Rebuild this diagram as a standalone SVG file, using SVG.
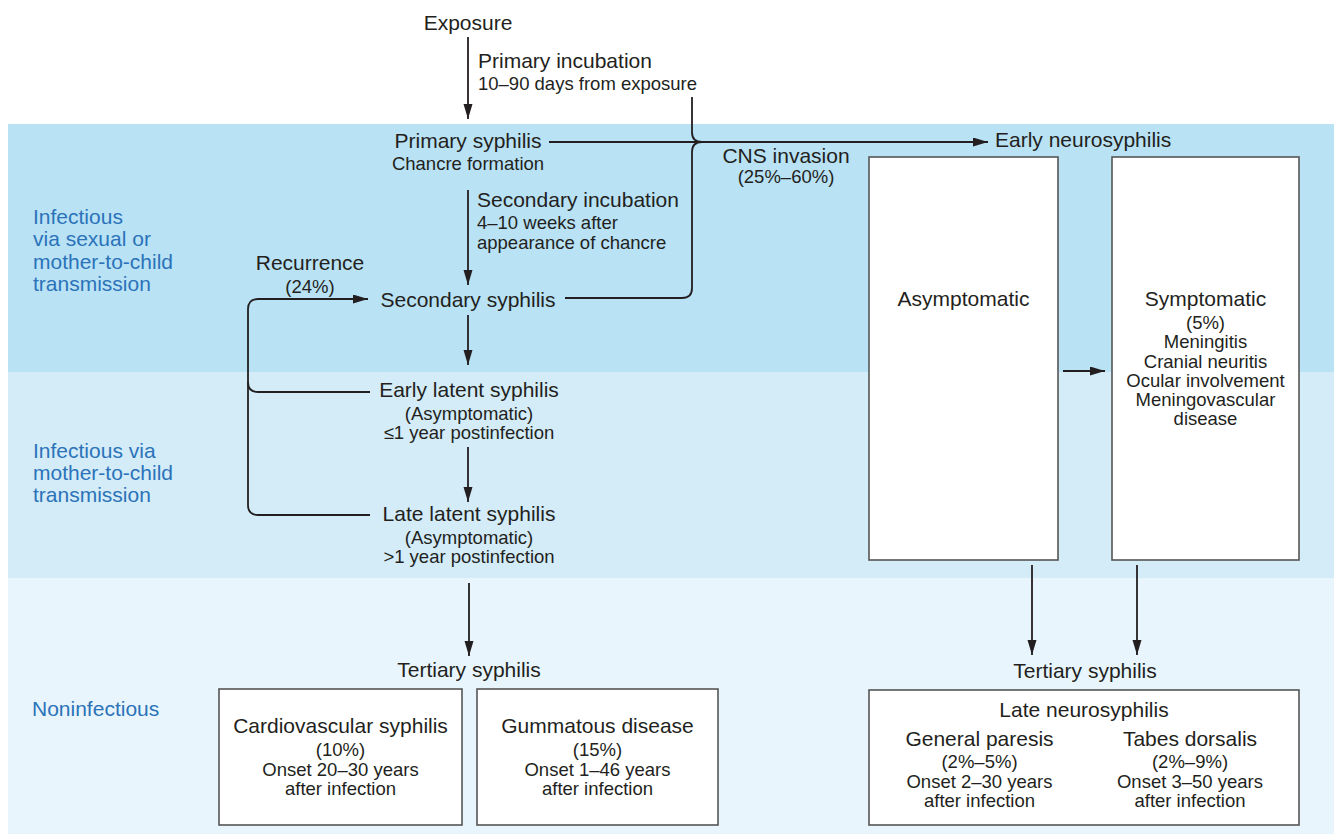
<svg xmlns="http://www.w3.org/2000/svg" width="1334" height="834" viewBox="0 0 1334 834">
<style>
text{font-family:"Liberation Sans",Arial,Helvetica,sans-serif;fill:#231f20}
.m{font-size:21px}
.s{font-size:18.5px}
.c{text-anchor:middle}
.lbl{font-size:21px;fill:#2b73b9}
.box{fill:#ffffff;stroke:#555555;stroke-width:1.6}
.ln{fill:none;stroke:#231f20;stroke-width:1.8}
.arr{marker-end:url(#ah)}
</style>
<defs>
<marker id="ah" markerUnits="userSpaceOnUse" markerWidth="16" markerHeight="10" refX="15" refY="4.5" orient="auto">
<path d="M0,0 L15,4.5 L0,9 z" fill="#231f20"/>
</marker>
</defs>
<g id="bands">
<rect x="8" y="124" width="1326" height="248" fill="#b9e2f5"/>
<rect x="8" y="372" width="1326" height="206" fill="#d3ecf8"/>
<rect x="8" y="578" width="1326" height="256" fill="#e8f5fc"/>
</g>
<g id="stage-labels">
<text class="lbl" x="33" y="224">Infectious</text>
<text class="lbl" x="33" y="246">via sexual or</text>
<text class="lbl" x="33" y="269">mother-to-child</text>
<text class="lbl" x="33" y="291">transmission</text>
<text class="lbl" x="33" y="458">Infectious via</text>
<text class="lbl" x="33" y="480">mother-to-child</text>
<text class="lbl" x="33" y="502">transmission</text>
<text class="lbl" x="32" y="716">Noninfectious</text>
</g>
<g id="connectors">
<line class="ln arr" x1="468" y1="37" x2="468" y2="119"/>
<line class="ln arr" x1="549" y1="142" x2="988" y2="142"/>
<path class="ln" d="M692,97 V132 Q692,142 702,142"/>
<path class="ln" d="M565,298 H682 Q692,298 692,288 V152 Q692,142 702,142"/>
<line class="ln arr" x1="468" y1="190" x2="468" y2="285"/>
<line class="ln arr" x1="468" y1="315" x2="468" y2="365"/>
<line class="ln arr" x1="468" y1="447" x2="468" y2="502"/>
<line class="ln arr" x1="469" y1="583" x2="469" y2="656"/>
<path class="ln arr" d="M370,515 H258 Q248,515 248,505 V309 Q248,299 258,299 H368"/>
<path class="ln" d="M370,392 H258 Q248,392 248,382"/>
<line class="ln arr" x1="1063" y1="371" x2="1105" y2="371"/>
<line class="ln arr" x1="1032" y1="565" x2="1032" y2="655"/>
<line class="ln arr" x1="1137" y1="565" x2="1137" y2="655"/>
</g>
<g id="exposure">
<text class="m c" x="468" y="30">Exposure</text>
</g>
<g id="primary-incubation">
<text class="m" x="478" y="68">Primary incubation</text>
<text class="s" x="478" y="90">10–90 days from exposure</text>
</g>
<g id="primary-syphilis">
<text class="m c" x="468" y="148">Primary syphilis</text>
<text class="s c" x="468" y="170">Chancre formation</text>
</g>
<g id="secondary-incubation">
<text class="m" x="477" y="207">Secondary incubation</text>
<text class="s" x="477" y="229">4–10 weeks after</text>
<text class="s" x="477" y="249">appearance of chancre</text>
</g>
<g id="recurrence">
<text class="m c" x="310" y="270">Recurrence</text>
<text class="s c" x="310" y="293">(24%)</text>
</g>
<g id="secondary-syphilis">
<text class="m c" x="468" y="307">Secondary syphilis</text>
</g>
<g id="cns-invasion">
<text class="m c" x="786" y="163">CNS invasion</text>
<text class="s c" x="786" y="183">(25%–60%)</text>
</g>
<g id="early-latent">
<text class="m c" x="469" y="397">Early latent syphilis</text>
<text class="s c" x="469" y="420">(Asymptomatic)</text>
<text class="s c" x="469" y="439">≤1 year postinfection</text>
</g>
<g id="late-latent">
<text class="m c" x="469" y="521">Late latent syphilis</text>
<text class="s c" x="469" y="544">(Asymptomatic)</text>
<text class="s c" x="469" y="563">&gt;1 year postinfection</text>
</g>
<g id="early-neurosyphilis">
<text class="m" x="995" y="147">Early neurosyphilis</text>
</g>
<g id="asymptomatic">
<rect class="box" x="869" y="157" width="189" height="403"/>
<text class="m c" x="963.5" y="306">Asymptomatic</text>
</g>
<g id="symptomatic">
<rect class="box" x="1112" y="157" width="187" height="403"/>
<text class="m c" x="1205.5" y="306">Symptomatic</text>
<text class="s c" x="1205.5" y="329">(5%)</text>
<text class="s c" x="1205.5" y="348">Meningitis</text>
<text class="s c" x="1205.5" y="368">Cranial neuritis</text>
<text class="s c" x="1205.5" y="387">Ocular involvement</text>
<text class="s c" x="1205.5" y="406">Meningovascular</text>
<text class="s c" x="1205.5" y="425">disease</text>
</g>
<g id="tertiary-left">
<text class="m c" x="469" y="677">Tertiary syphilis</text>
</g>
<g id="cardiovascular">
<rect class="box" x="219" y="689" width="243" height="136"/>
<text class="m c" x="340.5" y="733">Cardiovascular syphilis</text>
<text class="s c" x="340.5" y="756">(10%)</text>
<text class="s c" x="340.5" y="775.5">Onset 20–30 years</text>
<text class="s c" x="340.5" y="795">after infection</text>
</g>
<g id="gummatous">
<rect class="box" x="477" y="689" width="241" height="136"/>
<text class="m c" x="597.5" y="733">Gummatous disease</text>
<text class="s c" x="597.5" y="756">(15%)</text>
<text class="s c" x="597.5" y="775.5">Onset 1–46 years</text>
<text class="s c" x="597.5" y="795">after infection</text>
</g>
<g id="tertiary-right">
<text class="m c" x="1085" y="678">Tertiary syphilis</text>
</g>
<g id="late-neurosyphilis">
<rect class="box" x="869" y="690" width="430" height="135"/>
<text class="m c" x="1084" y="717">Late neurosyphilis</text>
<text class="m c" x="979.5" y="746">General paresis</text>
<text class="s c" x="979.5" y="768">(2%–5%)</text>
<text class="s c" x="979.5" y="788">Onset 2–30 years</text>
<text class="s c" x="979.5" y="807">after infection</text>
<text class="m c" x="1190" y="746">Tabes dorsalis</text>
<text class="s c" x="1190" y="768">(2%–9%)</text>
<text class="s c" x="1190" y="788">Onset 3–50 years</text>
<text class="s c" x="1190" y="807">after infection</text>
</g>
</svg>
